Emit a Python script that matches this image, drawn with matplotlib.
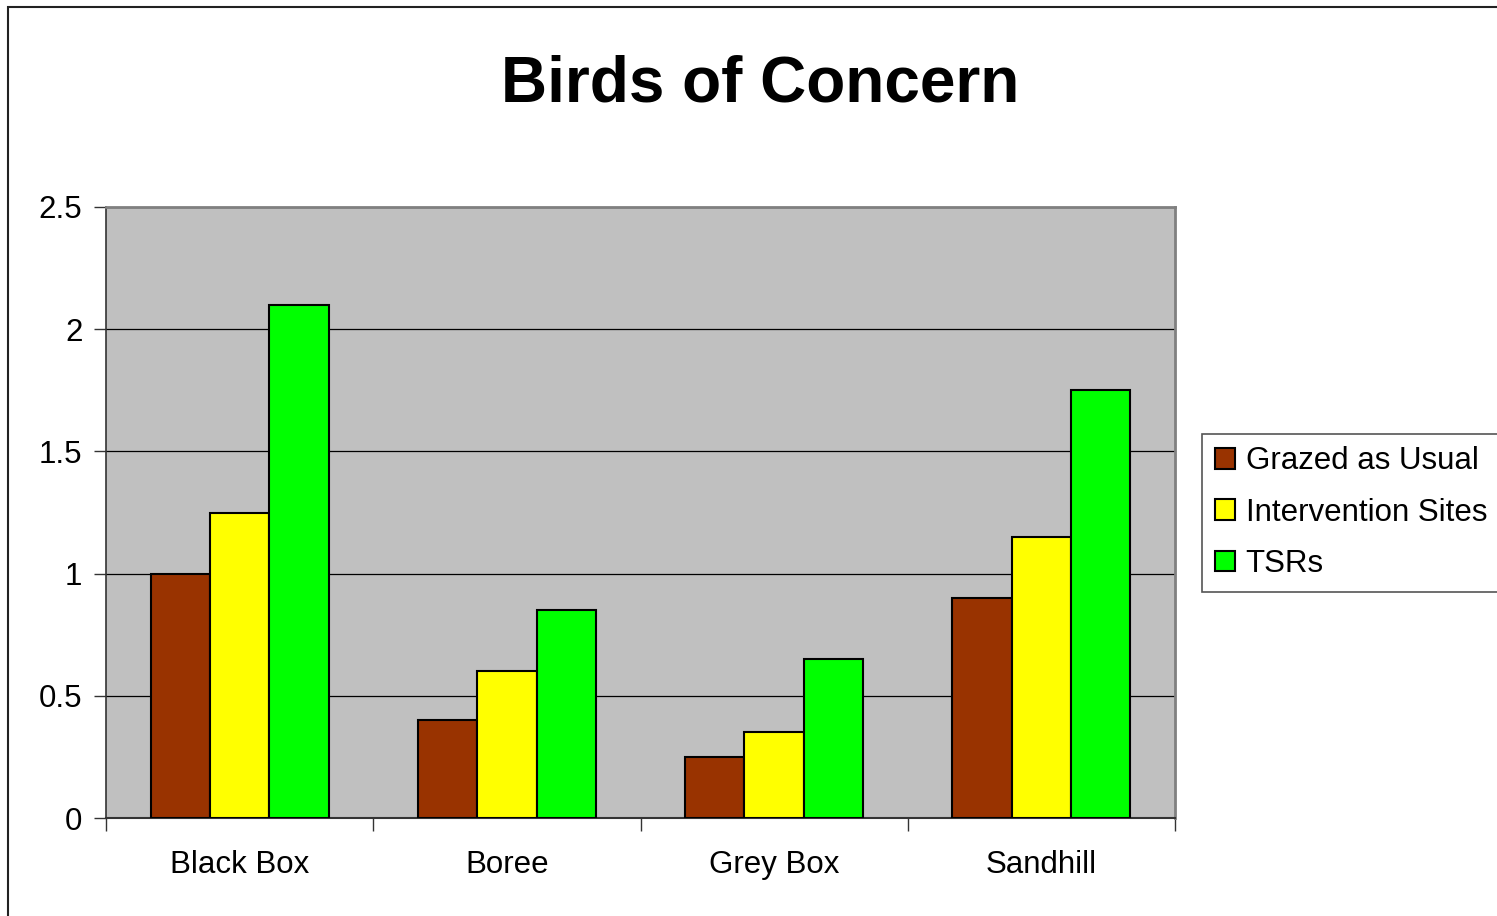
import matplotlib
matplotlib.use("Agg")
import matplotlib.pyplot as plt
import numpy as np
from matplotlib.patches import Rectangle

categories = ["Black Box", "Boree", "Grey Box", "Sandhill"]
series_names = ["Grazed as Usual", "Intervention Sites", "TSRs"]
grazed = [1.0, 0.4, 0.25, 0.9]
intervention = [1.25, 0.6, 0.35, 1.15]
tsrs = [2.1, 0.85, 0.65, 1.75]
colors = ["#993300", "#FFFF00", "#00FF00"]
yticks = [0, 0.5, 1, 1.5, 2, 2.5]
ytick_labels = ["0", "0.5", "1", "1.5", "2", "2.5"]

plt.rcParams['font.family'] = ['Liberation Sans', 'DejaVu Sans']

W, H = 1497, 916
fig = plt.figure(figsize=(W / 100, H / 100), dpi=100)
fig.patch.set_facecolor("white")

# outer chart border (left and top visible)
fig.add_artist(Rectangle((8 / W, -0.1), 1.2, 1.1 - 7 / H, transform=fig.transFigure,
                         fill=False, edgecolor="#222222", linewidth=1.5))

ax = fig.add_axes([106 / W, 1 - 818 / H, (1175 - 106) / W, (818 - 207) / H])
ax.set_facecolor("#C0C0C0")

x = np.arange(len(categories))
bw = 1 / 4.5
for i, (vals, c, name) in enumerate(zip([grazed, intervention, tsrs], colors, series_names)):
    ax.bar(x + (i - 1) * bw, vals, width=bw, color=c, edgecolor="black", linewidth=1.5,
           label=name, zorder=3)

ax.set_xlim(-0.5, len(categories) - 0.5)
ax.set_ylim(0, 2.5)
ax.set_yticks(yticks)
ax.set_yticklabels(ytick_labels, fontsize=22.5)
ax.yaxis.grid(True, color="black", linewidth=0.9, zorder=1)
ax.set_axisbelow(True)

ax.set_xticks(np.arange(-0.5, len(categories), 1.0))
ax.set_xticklabels([])
ax.set_xticks(x, minor=True)
ax.set_xticklabels(categories, minor=True, fontsize=22.5)
ax.tick_params(axis="x", which="minor", length=0, pad=23)
ax.tick_params(axis="x", which="major", length=9, width=1, color="#333333", direction="out")
ax.tick_params(axis="y", length=9, width=1, color="#333333", direction="out", pad=8)

for side in ["top", "right"]:
    ax.spines[side].set_color("#808080")
    ax.spines[side].set_linewidth(2)
ax.spines["left"].set_color("#333333")
ax.spines["bottom"].set_color("#333333")
ax.spines["left"].set_linewidth(1.2)
ax.spines["bottom"].set_linewidth(1.5)

fig.text(760 / W, 1 - 84 / H, "Birds of Concern", ha="center", va="center",
         fontsize=46, fontweight="bold")

x0 = 1202 / W
leg = fig.legend(loc="upper left", bbox_to_anchor=(x0, 1 - 434 / H, 1.02 - x0, 0),
                 bbox_transform=fig.transFigure, fontsize=22.5, frameon=True,
                 fancybox=False, edgecolor="#555555", framealpha=1, mode="expand",
                 handlelength=0.65, handleheight=0.65, handletextpad=0.35,
                 labelspacing=0.68, borderpad=0.4, borderaxespad=0)
leg.get_frame().set_linewidth(1.2)

fig.savefig("out.png", dpi=100, facecolor="white")
